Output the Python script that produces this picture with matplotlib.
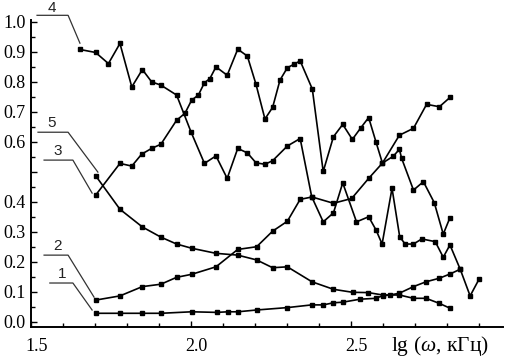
import matplotlib
matplotlib.use('Agg')
import matplotlib.pyplot as plt
import matplotlib.transforms as mtransforms
from matplotlib.ticker import MultipleLocator, FuncFormatter

# curve data (x = lg of frequency in kHz)
x1 = [1.702, 1.778, 1.848, 1.906, 2.002, 2.080, 2.115, 2.146, 2.205, 2.301, 2.377, 2.413,
      2.445, 2.474, 2.528, 2.578, 2.599, 2.622, 2.651, 2.695, 2.734, 2.776, 2.809, 2.841]
y1 = [0.028, 0.028, 0.028, 0.028, 0.033, 0.031, 0.033, 0.033, 0.039, 0.047, 0.056, 0.056,
      0.063, 0.065, 0.075, 0.078, 0.087, 0.089, 0.095, 0.117, 0.133, 0.145, 0.159, 0.175]

x2 = [1.702, 1.778, 1.848, 1.906, 1.955, 2.002, 2.078, 2.146, 2.205, 2.255, 2.301, 2.341,
      2.378, 2.445, 2.502, 2.555, 2.598, 2.651, 2.695, 2.736, 2.776, 2.809]
y2 = [0.072, 0.086, 0.117, 0.125, 0.148, 0.158, 0.183, 0.241, 0.250, 0.302, 0.335, 0.408,
      0.416, 0.395, 0.411, 0.478, 0.529, 0.622, 0.645, 0.725, 0.717, 0.748]

x3 = [1.702, 1.778, 1.815, 1.846, 1.877, 1.906, 1.955, 1.981, 2.002, 2.023, 2.042, 2.059,
      2.078, 2.113, 2.146, 2.176, 2.203, 2.231, 2.255, 2.278, 2.301, 2.322, 2.341, 2.379,
      2.413, 2.445, 2.474, 2.504, 2.530, 2.555, 2.578, 2.598, 2.632, 2.651, 2.658, 2.695,
      2.726, 2.760, 2.788, 2.809]
y3 = [0.422, 0.528, 0.519, 0.559, 0.578, 0.592, 0.672, 0.695, 0.739, 0.756, 0.797, 0.811,
      0.850, 0.822, 0.909, 0.886, 0.792, 0.676, 0.715, 0.806, 0.847, 0.859, 0.870, 0.776,
      0.501, 0.617, 0.658, 0.608, 0.646, 0.681, 0.599, 0.529, 0.552, 0.575, 0.545, 0.439,
      0.467, 0.397, 0.292, 0.347]

x4 = [1.653, 1.702, 1.742, 1.778, 1.815, 1.848, 1.877, 1.906, 1.955, 2.000, 2.042, 2.078,
      2.113, 2.146, 2.176, 2.203, 2.231, 2.255, 2.301, 2.341, 2.377, 2.413, 2.445, 2.474,
      2.517, 2.555, 2.578, 2.597, 2.628, 2.652, 2.669, 2.695, 2.721, 2.763, 2.788, 2.809,
      2.841, 2.872, 2.900]
y4 = [0.908, 0.898, 0.861, 0.928, 0.783, 0.841, 0.800, 0.789, 0.756, 0.633, 0.528, 0.553,
      0.478, 0.578, 0.563, 0.530, 0.525, 0.537, 0.586, 0.611, 0.417, 0.333, 0.363, 0.463,
      0.333, 0.350, 0.306, 0.259, 0.445, 0.283, 0.259, 0.259, 0.276, 0.267, 0.215, 0.256,
      0.175, 0.086, 0.142]

x5 = [1.702, 1.778, 1.848, 1.906, 1.955, 2.002, 2.078, 2.146, 2.205, 2.255, 2.301, 2.378,
      2.445, 2.505, 2.554, 2.599, 2.651, 2.695, 2.734, 2.776, 2.809]
y5 = [0.487, 0.375, 0.316, 0.282, 0.259, 0.245, 0.228, 0.222, 0.206, 0.180, 0.183, 0.133,
      0.108, 0.098, 0.097, 0.089, 0.089, 0.078, 0.078, 0.061, 0.045]

curve_names = ['1', '2', '3', '4', '5']
curves = [(x1, y1), (x2, y2), (x3, y3), (x4, y4), (x5, y5)]

# leader lines: (text x, text y, line start x, elbow x, level y, end x, end y)
leaders = {
    '4': (1.565, 1.045, 1.519, 1.616, 1.022, 1.653, 0.929),
    '5': (1.565, 0.662, 1.522, 1.616, 0.632, 1.709, 0.499),
    '3': (1.582, 0.568, 1.541, 1.631, 0.539, 1.691, 0.429),
    '2': (1.582, 0.251, 1.541, 1.616, 0.222, 1.697, 0.082),
    '1': (1.596, 0.158, 1.559, 1.631, 0.129, 1.691, 0.039),
}

plt.rcParams['font.family'] = 'Liberation Serif'
plt.rcParams['mathtext.fontset'] = 'custom'
plt.rcParams['mathtext.rm'] = 'Liberation Serif'
plt.rcParams['mathtext.it'] = 'Liberation Serif:italic'

fig = plt.figure(figsize=(5.16, 3.59), dpi=100)
ax = fig.add_axes([0.060, 0.090, 0.915, 0.854])

for name, (xs, ys) in zip(curve_names, curves):
    ax.plot(xs, ys, color='black', lw=1.2, marker='s', ms=3.4, clip_on=False)

for name, (tx, ty, x0, xe, yl, x2e, y2e) in leaders.items():
    ax.plot([x0, xe, x2e], [yl, yl, y2e], color='#333333', lw=0.9, clip_on=False)
    ax.text(tx, ty, name, ha='center', va='center', fontsize=11,
            family='Liberation Sans', color='#222222', clip_on=False)

ax.set_xlim(1.5, 2.975)
ax.set_ylim(-0.0167, 1.006)

ax.spines['top'].set_visible(False)
ax.spines['right'].set_visible(False)
for s in ['left', 'bottom']:
    ax.spines[s].set_linewidth(1.4)

ax.xaxis.set_major_locator(MultipleLocator(0.5))
ax.xaxis.set_minor_locator(MultipleLocator(0.1))
ax.yaxis.set_major_locator(MultipleLocator(0.1))
ax.yaxis.set_minor_locator(MultipleLocator(0.05))
ax.xaxis.set_major_formatter(FuncFormatter(lambda v, p: f'{v:.1f}'))
ax.yaxis.set_major_formatter(
    FuncFormatter(lambda v, p: '' if abs(v - 0.5) < 1e-6 else f'{v:.1f}'))

ax.tick_params(axis='both', which='both', direction='in', width=1, labelsize=13)
ax.tick_params(axis='both', which='major', length=4)
ax.tick_params(axis='both', which='minor', length=3)
ax.tick_params(axis='x', pad=8)
ax.tick_params(axis='y', pad=4)

offset = mtransforms.ScaledTranslation(0.055, 0, fig.dpi_scale_trans)
for lab in ax.get_xticklabels():
    lab.set_transform(lab.get_transform() + offset)

fig.text(0.757, 0.035, r'lg ($\omega$, кГц)', fontsize=15.5, ha='left', va='center')

fig.savefig('out.png', dpi=100)
